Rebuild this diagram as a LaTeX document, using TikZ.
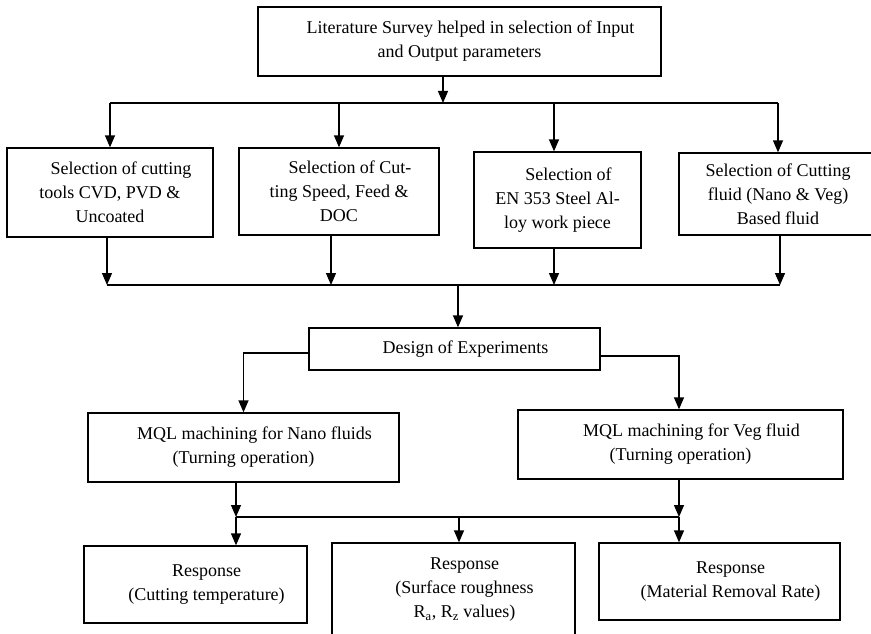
\documentclass[tikz,border=0pt]{standalone}
\usepackage{fontspec}
\setmainfont{Liberation Serif}
\usetikzlibrary{arrows.meta}

\begin{document}
\begin{tikzpicture}[x=1pt, y=-1pt, line width=1.3pt,
                    every node/.style={font={\fontsize{18}{24}\selectfont}},
                    box/.style 2 args={draw, rectangle, inner sep=0pt, align=center,
                                       minimum width=#1, minimum height=#2},
                    bus/.style={line width=1.8pt}, >={Triangle[length=12pt,width=10pt]}]
\useasboundingbox (0,0) rectangle (871,634);
\clip (0,0) rectangle (871,634);

\node[box={403pt}{69pt}] (lit) at (459.5,41.5)
  {\hspace*{22pt}Literature Survey helped in selection of Input\\and Output parameters};

\node[box={206pt}{89pt}] (tools) at (110,192.5)
  {\hspace*{22pt}Selection of cutting\\tools CVD, PVD \&\\Uncoated};
\node[box={200pt}{87pt}] (speed) at (339,191.5)
  {\hspace*{22pt}Selection of Cut-\\ting Speed, Feed \&\\DOC};
\node[box={167pt}{96pt}] (alloy) at (557.5,200)
  {\hspace*{22pt}Selection of\\EN 353 Steel Al-\\loy work piece};
\node[box={198pt}{82pt}] (fluid) at (778,194)
  {Selection of Cutting\\fluid (Nano \& Veg)\\Based fluid};

\node[box={291pt}{42pt}] (doe) at (454.5,349) {\hspace*{22pt}Design of Experiments};

\node[box={311pt}{69pt}] (nano) at (243.5,447.5)
  {\hspace*{22pt}MQL machining for Nano fluids\\(Turning operation)};
\node[box={325pt}{69pt}] (veg) at (680.5,444.5)
  {\hspace*{22pt}MQL machining for Veg fluid\\(Turning operation)};

\node[box={223pt}{77pt}] (temp) at (195.5,584.5)
  {\hspace*{22pt}Response\\\hspace*{22pt}(Cutting temperature)};
\node[box={243pt}{94pt}] (rough) at (453.5,590)
  {\hspace*{22pt}Response\\\hspace*{22pt}(Surface roughness\\\hspace*{22pt}R\textsubscript{a}, R\textsubscript{z} values)};
\node[box={241pt}{77pt}] (mrr) at (719.5,581.5)
  {\hspace*{22pt}Response\\\hspace*{22pt}(Material Removal Rate)};

\coordinate (top bus) at (443,103);
\coordinate (mid bus) at (458,285);
\coordinate (left bus) at (236,517);
\coordinate (centre bus) at (459,517);
\coordinate (right bus) at (679,517);

\draw[->] (lit.south -| top bus) -- (top bus);
\draw[bus] (tools.north |- top bus) -- (fluid.north |- top bus);
\draw[->] (tools.north |- top bus) -- (tools.north);
\draw[->] (speed.north |- top bus) -- (speed.north);
\draw[->] ([xshift=-3.5pt]alloy.north |- top bus) -- ([xshift=-3.5pt]alloy.north);
\draw[->] (fluid.north |- top bus) -- (fluid.north);

\draw[->] ([xshift=-3pt]tools.south) -- ([xshift=-3pt]tools.south |- mid bus);
\draw[->] ([xshift=-8pt]speed.south) -- ([xshift=-8pt]speed.south |- mid bus);
\draw[->] ([xshift=-3.5pt]alloy.south) -- ([xshift=-3.5pt]alloy.south |- mid bus);
\draw[->] ([xshift=2pt]fluid.south) -- ([xshift=2pt]fluid.south |- mid bus);
\draw ([xshift=-3pt]tools.south |- mid bus) -- ([xshift=2pt]fluid.south |- mid bus);
\draw[->] (mid bus) -- (mid bus |- doe.north);

\draw[->] ([yshift=-4pt]doe.west) -| (nano.north);
\draw[->] ([yshift=-7pt]doe.east) -| ([xshift=-1.5pt]veg.north);

\draw[->] (nano.south -| left bus) -- (left bus);
\draw[->] (veg.south -| right bus) -- (right bus);
\draw[bus] (left bus) -- (right bus);
\draw[->] (left bus) -- (left bus |- temp.north);
\draw[->] (centre bus) -- (centre bus |- rough.north);
\draw[->] (right bus) -- (right bus |- mrr.north);
\end{tikzpicture}
\end{document}
